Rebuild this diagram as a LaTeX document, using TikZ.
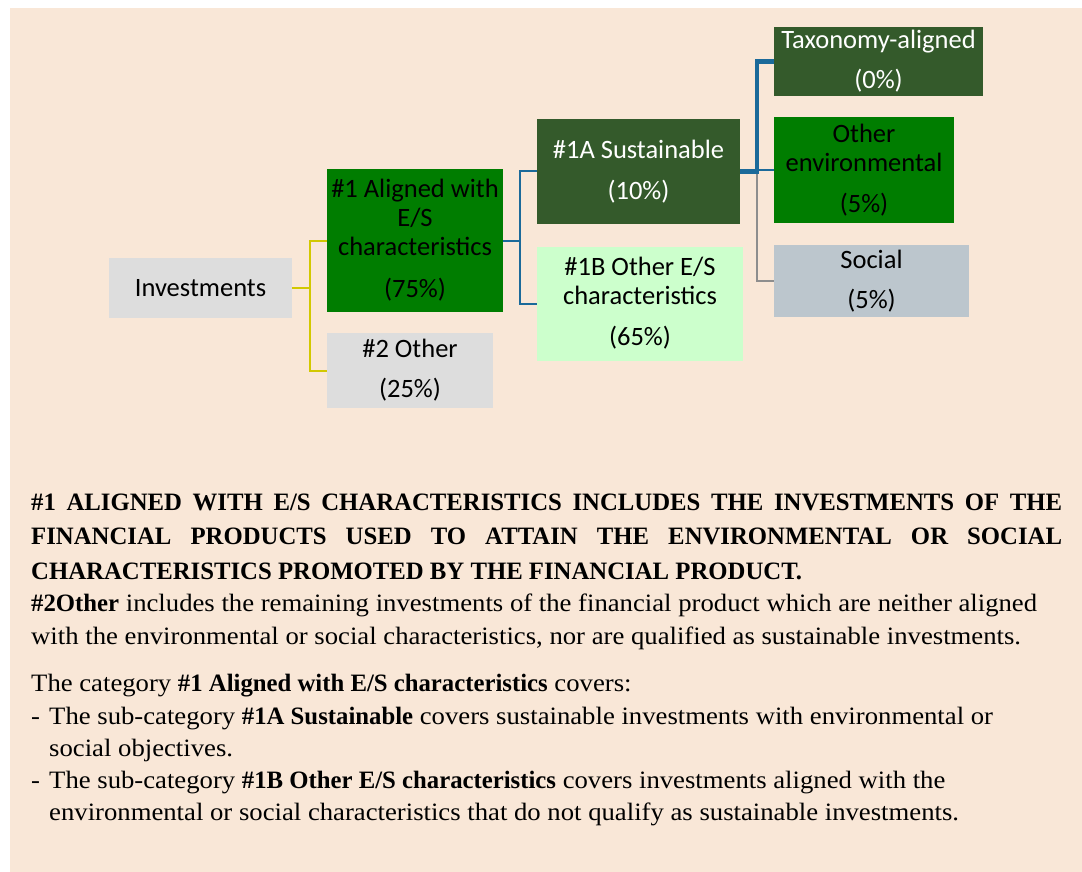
\documentclass[tikz,border=0pt]{standalone}
\usepackage{fontspec}
\setmainfont{Liberation Serif}[UprightFeatures={FakeStretch=1.068}, BoldFeatures={FakeStretch=0.99}]
\newfontfamily\boxfont{Carlito}
\usepackage{xcolor}
\usepackage{tikz}
\usetikzlibrary{positioning}

\definecolor{paper}{HTML}{F9E7D7}
\definecolor{greybox}{HTML}{DDDDDD}
\definecolor{esgreen}{HTML}{007D00}
\definecolor{darkgreen}{HTML}{345A2B}
\definecolor{lightgreen}{HTML}{CCFFCC}
\definecolor{socialgrey}{HTML}{BCC6CD}
\definecolor{forkyellow}{HTML}{D2C800}
\definecolor{forkblue}{HTML}{1B6A9A}
\definecolor{forkgrey}{HTML}{8E8E8E}

\begin{document}
\begin{tikzpicture}[x=1pt, y=-1pt,
    box/.style={rectangle, inner sep=0pt, align=center, font=\fontsize{26.5}{29}\boxfont},
    note/.style={anchor=north west, inner sep=0pt, text width=1050pt, align=flush left, font=\fontsize{25}{32.2}\selectfont},
    fork/.style={line width=2pt}]

      % PAGE
      \useasboundingbox (0, 0) rectangle (1082, 872);
      \fill[paper] (10, 8) rectangle (1082, 872);

      % Investments
      \node[box, fill=greybox, minimum width=183pt, minimum height=60pt] (invest) at (200.5, 288) {Investments};

      % #1 Aligned with E/S characteristics
      \node[box, fill=esgreen, minimum width=176pt, minimum height=143pt] (aligned) at (415, 240.5) {\#1 Aligned with\\E/S\\characteristics\\[13pt](75\%)};

      % #2 Other
      \node[box, fill=greybox, minimum width=166pt, minimum height=75pt] (other) at (410, 370.5) {\#2 Other\\[11pt](25\%)};

      % #1A Sustainable
      \node[box, fill=darkgreen, text=white, minimum width=203pt, minimum height=105pt] (sustain) at (638.5, 171.5) {\#1A Sustainable\\[12pt](10\%)};

      % #1B Other E/S characteristics
      \node[box, fill=lightgreen, minimum width=206pt, minimum height=114pt] (otheres) at (640, 303.5) {\#1B Other E/S\\characteristics\\[12pt](65\%)};

      % Taxonomy-aligned
      \node[box, fill=darkgreen, text=white, minimum width=209pt, minimum height=69pt] (taxo) at (878.5, 61.5) {Taxonomy-aligned\\[11pt](0\%)};

      % Other environmental
      \node[box, fill=esgreen, minimum width=180pt, minimum height=106pt] (otherenv) at (864, 170) {Other\\environmental\\[12pt](5\%)};

      % Social
      \node[box, fill=socialgrey, minimum width=195pt, minimum height=72pt] (social) at (871.5, 281) {Social\\[11pt](5\%)};

      % FORKS
      \draw[fork, forkyellow] (invest.east) -- ++(17.3, 0) |- (aligned.west);
      \draw[fork, forkyellow] (invest.east) -- ++(17.3, 0) |- (other.west);
      \draw[fork, forkblue] (aligned.east) -- ++(16.6, 0) |- (sustain.west);
      \draw[fork, forkblue] (aligned.east) -- ++(16.6, 0) |- (otheres.west);
      \draw[fork, forkgrey] (sustain.east) -- ++(16.7, 0) |- (social.west);
      \draw[fork, forkblue] (sustain.east) -- ++(16.7, 0) |- (otherenv.west);
      \draw[forkblue, line width=4.5pt] (sustain.east) -- ++(16.7, 0) |- (taxo.west);

      % DEFINITIONS
      \node[note, text width=1031pt, align=justify, font=\fontsize{25}{34.6}\selectfont] (def1) at (31, 485.8) {\strut\bfseries \#1 ALIGNED WITH E/S CHARACTERISTICS INCLUDES THE INVESTMENTS OF THE\linebreak FINANCIAL PRODUCTS USED TO ATTAIN THE ENVIRONMENTAL OR SOCIAL\linebreak CHARACTERISTICS PROMOTED BY THE FINANCIAL PRODUCT.};
      \node[note] (def2) at (31, 589.1) {\strut\textbf{\#2Other} includes the remaining investments of the financial product which are neither aligned\newline with the environmental or social characteristics, nor are qualified as sustainable investments.};

      % CATEGORY
      \node[note] (category) at (31, 669.1) {\strut The category \textbf{\#1 Aligned with E/S characteristics} covers:\par
        \hangindent=18pt\hangafter=1\makebox[18pt][l]{-}The sub-category \textbf{\#1A Sustainable} covers sustainable investments with environmental or\newline social objectives.\par
        \hangindent=18pt\hangafter=1\makebox[18pt][l]{-}The sub-category \textbf{\#1B Other E/S characteristics} covers investments aligned with the\newline environmental or social characteristics that do not qualify as sustainable investments.\par};
    \end{tikzpicture}
\end{document}
